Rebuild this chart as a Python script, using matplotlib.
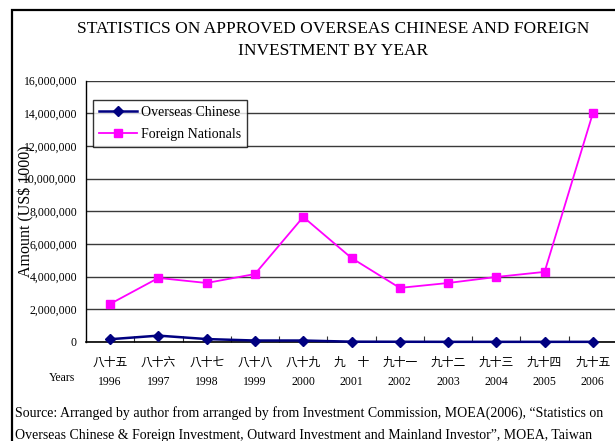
import matplotlib
matplotlib.use("Agg")
import matplotlib.pyplot as plt
from matplotlib.patches import Rectangle
from matplotlib.ticker import FuncFormatter, FixedLocator

# Data (US$ 1000)
roc_years = ["八十五", "八十六", "八十七", "八十八", "八十九", "九　十",
             "九十一", "九十二", "九十三", "九十四", "九十五"]
years = ["1996", "1997", "1998", "1999", "2000", "2001",
         "2002", "2003", "2004", "2005", "2006"]
overseas_chinese = [170000, 390000, 180000, 90000, 90000, 20000,
                    15000, 10000, 10000, 10000, 10000]
foreign_nationals = [2330000, 3920000, 3610000, 4160000, 7650000, 5140000,
                     3310000, 3610000, 3980000, 4290000, 14000000]
y_ticks = [0, 2000000, 4000000, 6000000, 8000000, 10000000,
           12000000, 14000000, 16000000]

FONT = ["Liberation Serif", "Noto Sans CJK TC", "DejaVu Sans"]
plt.rcParams["font.family"] = FONT

W, H = 615, 441
fig = plt.figure(figsize=(W / 100, H / 100), dpi=100)
ax = fig.add_axes([86 / W, 1 - 342 / H, 531 / W, (342 - 80.5) / H])

x = list(range(len(years)))
ax.plot(x, overseas_chinese, color="#000080", lw=1.8, marker="D",
        markersize=5.5, label="Overseas Chinese", clip_on=False, zorder=4)
ax.plot(x, foreign_nationals, color="#FF00FF", lw=1.3, marker="s",
        markersize=6, label="Foreign Nationals", clip_on=False, zorder=3)

ax.set_xlim(-0.5, len(years) - 0.5)
ax.set_ylim(0, 16000000)
ax.set_yticks(y_ticks)
ax.yaxis.set_major_formatter(FuncFormatter(lambda v, p: f"{int(v):,}"))
ax.tick_params(axis="y", length=0, pad=6.5, labelsize=8.5)
ax.grid(axis="y", color="#3a3a3a", lw=1.0)
ax.set_axisbelow(True)

ax.set_xticks(x)
ax.set_xticklabels([f"{r}\n{y}" for r, y in zip(roc_years, years)],
                   fontsize=8.5, linespacing=1.75)
ax.tick_params(axis="x", which="major", length=0, pad=11)
ax.xaxis.set_minor_locator(FixedLocator([i + 0.5 for i in range(len(years))]))
ax.tick_params(axis="x", which="minor", direction="in", length=4,
               width=0.8, color="#333333")

for s in ("top", "right"):
    ax.spines[s].set_visible(False)
ax.spines["left"].set_color("black")
ax.spines["bottom"].set_color("black")
ax.spines["left"].set_linewidth(1.0)
ax.spines["bottom"].set_linewidth(1.2)

ax.set_ylabel("Amount (US$ 1000)", fontsize=11.5)
ax.yaxis.set_label_coords(-0.097, 0.5)

leg = ax.legend(loc="upper left", bbox_to_anchor=(7 / 531, 1 - 19 / 261.5),
                frameon=True, fancybox=False, fontsize=10,
                handlelength=2.7, borderpad=0.45, labelspacing=0.65,
                handletextpad=0.3, borderaxespad=0)
leg.get_frame().set_edgecolor("black")
leg.get_frame().set_linewidth(1.0)

fig.text(333 / W, 1 - 29 / H, "STATISTICS ON APPROVED OVERSEAS CHINESE AND FOREIGN",
         ha="center", va="center", fontsize=12.5)
fig.text(333 / W, 1 - 51 / H, "INVESTMENT BY YEAR",
         ha="center", va="center", fontsize=12.5)

fig.text(62 / W, 1 - 378 / H, "Years", ha="center", va="center", fontsize=8.5)

fig.text(15 / W, 1 - 413 / H,
         "Source: Arranged by author from arranged by from Investment Commission, "
         "MOEA(2006), \u201cStatistics on",
         ha="left", va="center", fontsize=10)
fig.text(15 / W, 1 - 436 / H,
         "Overseas Chinese & Foreign Investment, Outward Investment and Mainland "
         "Investor\u201d, MOEA, Taiwan",
         ha="left", va="center", fontsize=10)

# Outer frame around the whole chart
fig.add_artist(Rectangle((12 / W, -0.05), 1.2, 1 - 10 / H + 0.05,
                         transform=fig.transFigure, fill=False,
                         edgecolor="black", lw=1.6, clip_on=False))

fig.savefig("out.png", dpi=100)
